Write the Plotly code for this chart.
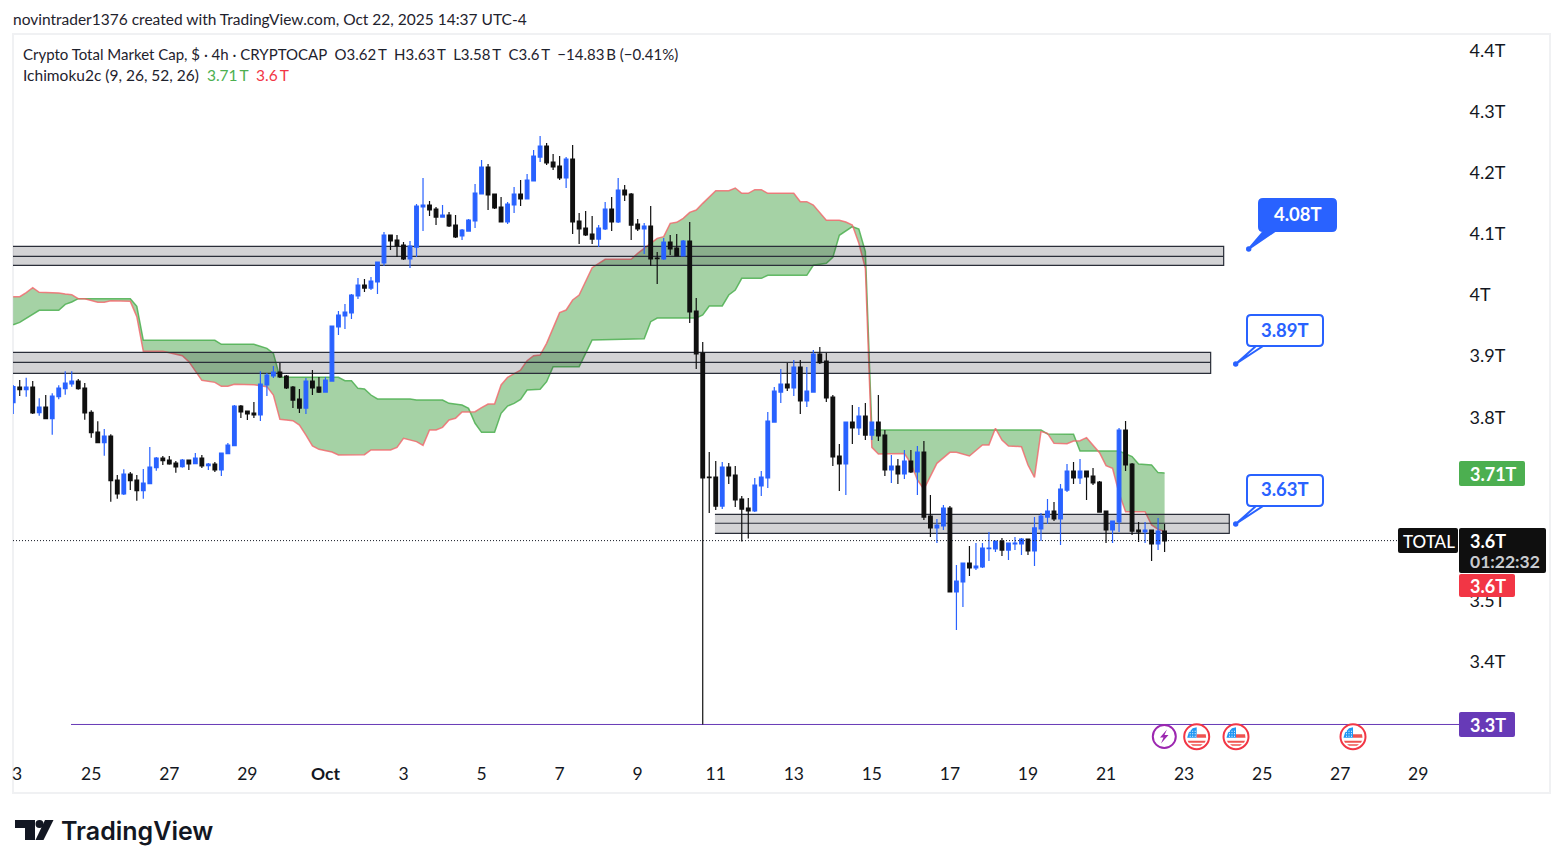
import pandas as pd
import plotly.graph_objects as go

# 4h candles, values in trillions
first_candle = "2025-09-23 00:00"
opens = [
    3.8238, 3.8494, 3.8450, 3.8494, 3.8074, 3.8167, 3.7976, 3.8336, 3.8467, 3.8543,
    3.8592, 3.8478, 3.8080, 3.7758, 3.7583, 3.7692, 3.6972, 3.6743, 3.7070, 3.6972,
    3.6797, 3.6912, 3.7174, 3.7332, 3.7299, 3.7250, 3.7190, 3.7299, 3.7239, 3.7332,
    3.7207, 3.7234, 3.7136, 3.7403, 3.7534, 3.8183, 3.8101, 3.8069, 3.8036, 3.8527,
    3.8674, 3.8740, 3.8674, 3.8494, 3.8298, 3.8150, 3.8592, 3.8494, 3.8412, 3.8592,
    3.9476, 3.9656, 3.9705, 3.9984, 4.0164, 4.0114, 4.0213, 4.0524, 4.0982, 4.0900,
    4.0818, 4.0589, 4.0785, 4.1440, 4.1473, 4.1407, 4.1276, 4.1309, 4.1145, 4.0966,
    4.1047, 4.1211, 4.1653, 4.2095, 4.1653, 4.1440, 4.1195, 4.1473, 4.1653, 4.1571,
    4.1866, 4.2258, 4.2439, 4.2177, 4.2111, 4.1915, 4.2226, 4.1211, 4.1096, 4.0998,
    4.0916, 4.1080, 4.1407, 4.1195, 4.1718, 4.1653, 4.1162, 4.1080, 4.1129, 4.0605,
    4.0589, 4.0867, 4.0769, 4.0638, 4.0884, 3.9738, 3.9051, 3.7021, 3.7021, 3.6546,
    3.7185, 3.7054, 3.6661, 3.6514, 3.6465, 3.6874, 3.7005, 3.7921, 3.8412, 3.8543,
    3.8478, 3.8821, 3.8265, 3.8412, 3.9034, 3.8920, 3.8331, 3.7365, 3.7234, 3.7921,
    3.7823, 3.8020, 3.7708, 3.7921, 3.7708, 3.7136, 3.7201, 3.7070, 3.7283, 3.7103,
    3.7430, 3.6383, 3.6187, 3.6219, 3.6514, 3.5139, 3.5303, 3.5614, 3.5532, 3.5548,
    3.5848, 3.5843, 3.5974, 3.5826, 3.5925, 3.5925, 3.6006, 3.5810, 3.6170, 3.6366,
    3.6465, 3.6334, 3.6808, 3.7119, 3.7005, 3.7119, 3.7038, 3.6939, 3.6465, 3.6154,
    3.6285, 3.7790, 3.7234, 3.6154, 3.6121, 3.6154, 3.5925, 3.6137,
]
closes = [
    3.8500, 3.8450, 3.8494, 3.8069, 3.8167, 3.7976, 3.8347, 3.8478, 3.8560, 3.8592,
    3.8467, 3.8069, 3.7747, 3.7583, 3.7692, 3.6961, 3.6743, 3.7070, 3.6961, 3.6797,
    3.6923, 3.7185, 3.7332, 3.7288, 3.7234, 3.7185, 3.7299, 3.7234, 3.7332, 3.7201,
    3.7234, 3.7136, 3.7414, 3.7545, 3.8183, 3.8085, 3.8052, 3.8036, 3.8543, 3.8691,
    3.8740, 3.8658, 3.8478, 3.8281, 3.8150, 3.8592, 3.8478, 3.8412, 3.8609, 3.9492,
    3.9672, 3.9722, 4.0000, 4.0164, 4.0114, 4.0229, 4.0540, 4.0982, 4.0884, 4.0802,
    4.0589, 4.0802, 4.1456, 4.1473, 4.1391, 4.1276, 4.1309, 4.1129, 4.0949, 4.1064,
    4.1227, 4.1669, 4.2095, 4.1637, 4.1424, 4.1195, 4.1489, 4.1653, 4.1571, 4.1882,
    4.2275, 4.2439, 4.2160, 4.2095, 4.1915, 4.2226, 4.1195, 4.1080, 4.0982, 4.0916,
    4.1096, 4.1407, 4.1195, 4.1718, 4.1637, 4.1145, 4.1080, 4.1129, 4.0589, 4.0595,
    4.0867, 4.0753, 4.0638, 4.0884, 3.9722, 3.9034, 3.7005, 3.7010, 3.6546, 3.7185,
    3.7038, 3.6645, 3.6497, 3.6465, 3.6890, 3.7021, 3.7938, 3.8429, 3.8543, 3.8478,
    3.8821, 3.8265, 3.8429, 3.9034, 3.8892, 3.8314, 3.7349, 3.7234, 3.7921, 3.7823,
    3.8020, 3.7708, 3.7921, 3.7692, 3.7136, 3.7201, 3.7070, 3.7283, 3.7103, 3.7430,
    3.6366, 3.6187, 3.6236, 3.6514, 3.5139, 3.5319, 3.5614, 3.5532, 3.5565, 3.5859,
    3.5859, 3.5974, 3.5826, 3.5941, 3.5941, 3.6006, 3.5810, 3.6187, 3.6383, 3.6465,
    3.6334, 3.6825, 3.7119, 3.7005, 3.7119, 3.7021, 3.6923, 3.6448, 3.6154, 3.6301,
    3.7790, 3.7218, 3.6137, 3.6121, 3.6154, 3.5925, 3.6137, 3.5974,
]
highs = [
    3.8527, 3.8609, 3.8647, 3.8592, 3.8309, 3.8363, 3.8390, 3.8521, 3.8751, 3.8751,
    3.8625, 3.8560, 3.8112, 3.7932, 3.7807, 3.7720, 3.7054, 3.7147, 3.7103, 3.7054,
    3.7152, 3.7512, 3.7349, 3.7365, 3.7365, 3.7283, 3.7316, 3.7299, 3.7414, 3.7381,
    3.7250, 3.7267, 3.7414, 3.7578, 3.8200, 3.8200, 3.8101, 3.8249, 3.8751, 3.8723,
    3.8838, 3.8887, 3.8691, 3.8511, 3.8461, 3.8642, 3.8772, 3.8658, 3.8658, 3.9492,
    3.9738, 3.9853, 4.0016, 4.0278, 4.0262, 4.0294, 4.0540, 4.1031, 4.0982, 4.0982,
    4.0867, 4.0884, 4.1489, 4.1915, 4.1538, 4.1440, 4.1473, 4.1358, 4.1309, 4.1080,
    4.1244, 4.1817, 4.2209, 4.2144, 4.1653, 4.1604, 4.1522, 4.1767, 4.1882, 4.1980,
    4.2373, 4.2602, 4.2488, 4.2308, 4.2275, 4.2258, 4.2455, 4.1342, 4.1375, 4.1293,
    4.1145, 4.1522, 4.1604, 4.1915, 4.1800, 4.1669, 4.1244, 4.1178, 4.1456, 4.0704,
    4.0933, 4.0982, 4.0998, 4.0900, 4.1195, 3.9951, 3.9231, 3.7430, 3.7283, 3.7267,
    3.7250, 3.7201, 3.6710, 3.6677, 3.7005, 3.7119, 3.8085, 3.8494, 3.8789, 3.8887,
    3.8936, 3.8936, 3.8821, 3.9100, 3.9149, 3.9051, 3.8363, 3.7561, 3.7921, 3.8200,
    3.8167, 3.8232, 3.7921, 3.8363, 3.7790, 3.7381, 3.7316, 3.7463, 3.7463, 3.7529,
    3.7610, 3.6727, 3.6334, 3.6563, 3.6546, 3.5581, 3.5614, 3.5892, 3.5941, 3.5941,
    3.6121, 3.5974, 3.6023, 3.5941, 3.6040, 3.6023, 3.6006, 3.6366, 3.6432, 3.6661,
    3.6612, 3.6907, 3.7234, 3.7267, 3.7316, 3.7119, 3.7168, 3.6956, 3.6465, 3.6301,
    3.7823, 3.7938, 3.7250, 3.6285, 3.6285, 3.6154, 3.6350, 3.6252,
]
lows = [
    3.8052, 3.8347, 3.8336, 3.8052, 3.8025, 3.7976, 3.7714, 3.8292, 3.8369, 3.8500,
    3.8450, 3.7960, 3.7665, 3.7583, 3.7370, 3.6618, 3.6667, 3.6727, 3.6808, 3.6634,
    3.6667, 3.6912, 3.7125, 3.7218, 3.7223, 3.7092, 3.7174, 3.7136, 3.7234, 3.7168,
    3.7136, 3.7103, 3.7038, 3.7398, 3.7534, 3.7987, 3.7954, 3.7987, 3.7938, 3.8347,
    3.8642, 3.8642, 3.8461, 3.8150, 3.8069, 3.8052, 3.8363, 3.8396, 3.8412, 3.8592,
    3.9345, 3.9443, 3.9607, 3.9934, 4.0049, 4.0082, 4.0016, 4.0475, 4.0736, 4.0622,
    4.0573, 4.0442, 4.0622, 4.1047, 4.1293, 4.1145, 4.1276, 4.1113, 4.0933, 4.0900,
    4.1047, 4.1096, 4.1653, 4.1391, 4.1407, 4.1195, 4.1162, 4.1342, 4.1456, 4.1571,
    4.1866, 4.2177, 4.2128, 4.2046, 4.1882, 4.1751, 4.0998, 4.0835, 4.0966, 4.0835,
    4.0785, 4.1064, 4.1047, 4.1178, 4.1538, 4.0900, 4.1047, 4.0671, 4.0475, 4.0180,
    4.0573, 4.0655, 4.0638, 4.0638, 3.9542, 3.8789, 3.2971, 3.6432, 3.6481, 3.6497,
    3.6907, 3.6530, 3.5966, 3.6016, 3.6448, 3.6710, 3.6841, 3.7921, 3.8232, 3.8429,
    3.8347, 3.8052, 3.8167, 3.8412, 3.8871, 3.8249, 3.7201, 3.6792, 3.6727, 3.7561,
    3.7708, 3.7627, 3.7627, 3.7610, 3.7038, 3.6923, 3.6907, 3.6988, 3.7087, 3.6727,
    3.6317, 3.6040, 3.5941, 3.6154, 3.5139, 3.4517, 3.4894, 3.5401, 3.5499, 3.5532,
    3.5647, 3.5794, 3.5728, 3.5663, 3.5826, 3.5745, 3.5745, 3.5565, 3.5974, 3.6252,
    3.6301, 3.5908, 3.6776, 3.6907, 3.6907, 3.6645, 3.6890, 3.6448, 3.5941, 3.5941,
    3.6121, 3.7119, 3.6072, 3.5957, 3.5941, 3.5647, 3.5826, 3.5794,
]

# Ichimoku cloud edges: candle number and value at each bend
green_idx = [
    0, 1, 4, 7, 8, 9, 10, 18, 19, 20, 31, 32, 37, 39, 40, 41, 50, 51, 52, 53,
    54, 55, 56, 61, 62, 66, 67, 69, 70, 71, 72, 74, 75, 76, 77, 78, 79, 81, 82, 83,
    87, 89, 97, 98, 99, 105, 106, 107, 109, 110, 111, 112, 115, 116, 122, 123, 125, 126, 127, 129,
    130, 131, 132, 158, 159, 163, 164, 170, 172, 173, 175, 176, 177,
]
green_val = [
    3.9514, 3.9552, 3.9749, 3.9749, 3.9847, 3.9885, 3.9940, 3.9940, 3.9814, 3.9258,
    3.9258, 3.9192, 3.9192, 3.9127, 3.9045, 3.8652, 3.8652, 3.8598, 3.8598, 3.8472,
    3.8461, 3.8363, 3.8298, 3.8298, 3.8281, 3.8281, 3.8227, 3.8200, 3.8145, 3.7900,
    3.7752, 3.7752, 3.8063, 3.8183, 3.8227, 3.8292, 3.8445, 3.8456, 3.8581, 3.8827,
    3.8827, 3.9263, 3.9285, 3.9563, 3.9623, 3.9624, 3.9673, 3.9820, 3.9820, 4.0000,
    4.0082, 4.0273, 4.0273, 4.0322, 4.0322, 4.0486, 4.0518, 4.0617, 4.0977, 4.1118,
    4.1080, 4.0709, 3.7791, 3.7791, 3.7726, 3.7720, 3.7447, 3.7447, 3.7355, 3.7235,
    3.7218, 3.7093, 3.7087,
]
red_idx = [
    0, 1, 2, 3, 4, 7, 8, 9, 10, 11, 13, 14, 15, 18, 19, 20, 23, 26, 27, 29,
    31, 32, 33, 34, 37, 39, 40, 41, 43, 44, 45, 46, 47, 49, 50, 54, 55, 58, 59, 60,
    62, 63, 64, 65, 66, 67, 68, 69, 70, 71, 72, 73, 74, 75, 76, 78, 79, 80, 81, 82,
    84, 85, 86, 87, 89, 91, 95, 96, 98, 99, 100, 101, 102, 103, 104, 105, 106, 107, 108, 110,
    111, 112, 113, 114, 115, 116, 120, 121, 122, 123, 124, 125, 127, 128, 129, 130, 131, 132, 133, 137,
    138, 139, 140, 141, 142, 144, 145, 147, 149, 150, 151, 152, 153, 155, 156, 157, 158, 159, 160, 162,
    163, 164, 165, 167, 168, 169, 170, 171, 174, 175, 176, 177,
]
red_val = [
    3.9973, 3.9973, 4.0038, 4.0120, 4.0044, 4.0033, 4.0016, 4.0005, 3.9940, 3.9940,
    3.9880, 3.9880, 3.9907, 3.9896, 3.9645, 3.9078, 3.9078, 3.9007, 3.8909, 3.8603,
    3.8570, 3.8505, 3.8505, 3.8538, 3.8532, 3.8500, 3.8363, 3.7965, 3.7943, 3.7872,
    3.7708, 3.7529, 3.7474, 3.7431, 3.7381, 3.7387, 3.7463, 3.7463, 3.7507, 3.7654,
    3.7600, 3.7540, 3.7791, 3.7791, 3.7834, 3.7954, 3.7982, 3.8085, 3.8085, 3.8091,
    3.8156, 3.8216, 3.8216, 3.8527, 3.8652, 3.8772, 3.8925, 3.9007, 3.9018, 3.9209,
    3.9711, 3.9754, 3.9918, 4.0000, 4.0447, 4.0584, 4.0584, 4.0682, 4.0845, 4.0927,
    4.0955, 4.1173, 4.1189, 4.1255, 4.1353, 4.1391, 4.1500, 4.1598, 4.1708, 4.1708,
    4.1751, 4.1664, 4.1664, 4.1724, 4.1724, 4.1664, 4.1664, 4.1528, 4.1528, 4.1473,
    4.1353, 4.1222, 4.1222, 4.1195, 4.1146, 4.0846, 4.0437, 3.7507, 3.7398, 3.7404,
    3.7245, 3.6973, 3.6820, 3.7027, 3.7245, 3.7425, 3.7425, 3.7365, 3.7546, 3.7546,
    3.7818, 3.7627, 3.7529, 3.7518, 3.7218, 3.7016, 3.7764, 3.7736, 3.7573, 3.7567,
    3.7611, 3.7616, 3.7665, 3.7420, 3.7207, 3.7164, 3.6754, 3.6454, 3.6454, 3.6236,
    3.6165, 3.6127,
]

# drawn zones
zone_top = [4.0797, 3.9062, 3.6411]
zone_mid = [4.0633, 3.8898, 3.6264]
zone_bottom = [4.0486, 3.8718, 3.6100]
zone_start = ["2025-09-20 00:00", "2025-09-20 00:00", "2025-10-10 23:30"]
zone_end = ["2025-10-24 00:20", "2025-10-23 16:20", "2025-10-24 03:47"]

last_price = 3.598
low_line = 3.2971
low_line_start = "2025-09-24 11:33"

# 3.7T and 3.6T sit under the price tags in the reference, nothing of them shows
y_ticks = [4.4, 4.3, 4.2, 4.1, 4.0, 3.9, 3.8, 3.5, 3.4]
y_labels = ["4.4T", "4.3T", "4.2T", "4.1T", "4T", "3.9T", "3.8T", "3.5T", "3.4T"]
x_ticks = ["2025-09-25", "2025-09-27", "2025-09-29", "2025-10-01", "2025-10-03", "2025-10-05",
           "2025-10-07", "2025-10-09", "2025-10-11", "2025-10-13", "2025-10-15", "2025-10-17",
           "2025-10-19", "2025-10-21", "2025-10-23", "2025-10-25", "2025-10-27", "2025-10-29"]
x_labels = ["25", "27", "29", "<b>Oct</b>", "3", "5", "7", "9", "11", "13", "15", "17",
            "19", "21", "23", "25", "27", "29"]

FONT = "Lato"
BLUE = "#2962ff"
BLACK = "#101010"
INK = "#131722"
THIN = "\u2009"

# page body keeps its 8px margin, so the figure is 16px smaller than the window
PLOT_L, PLOT_R, PLOT_T, PLOT_B = 13, 1459, 34, 755
PX_PER_DAY = 39.03
FIRST_X = 13.2


def X(px):
    return (px - PLOT_L) / (PLOT_R - PLOT_L)


def Y(py):
    return (PLOT_B - py) / (PLOT_B - PLOT_T)


def pt(px, py):
    return f"{X(px):.5f},{Y(py):.5f}"


def box(x0, y0, x1, y1, fill, line=None, width=0, r=2):
    path = (f"M{pt(x0 + r, y0)} L{pt(x1 - r, y0)} Q{pt(x1, y0)} {pt(x1, y0 + r)} "
            f"L{pt(x1, y1 - r)} Q{pt(x1, y1)} {pt(x1 - r, y1)} L{pt(x0 + r, y1)} "
            f"Q{pt(x0, y1)} {pt(x0, y1 - r)} L{pt(x0, y0 + r)} Q{pt(x0, y0)} {pt(x0 + r, y0)} Z")
    return dict(type="path", xref="paper", yref="paper", path=path, fillcolor=fill,
                line=dict(color=line or fill, width=width))


def circle(cx, cy, r, fill, line=None, width=0):
    return dict(type="circle", xref="paper", yref="paper", x0=X(cx - r), x1=X(cx + r),
                y0=Y(cy + r), y1=Y(cy - r), fillcolor=fill,
                line=dict(color=line or fill, width=width))


def poly(points, fill):
    path = "M" + " L".join(pt(a, b) for a, b in points) + " Z"
    return dict(type="path", xref="paper", yref="paper", path=path, fillcolor=fill,
                line=dict(width=0))


def label(px, py, text, color=INK, size=15, anchor="left", weight=None, family=FONT):
    return dict(xref="paper", yref="paper", x=X(px), y=Y(py), text=text, showarrow=False,
                xanchor=anchor, yanchor="middle", align=anchor, borderpad=0, borderwidth=0,
                font=dict(family=family, size=size, color=color, weight=weight))


def callout(x0, y0, x1, y1, tip, base, fill, line, text_color, text):
    r = 4
    path = (f"M{pt(x0 + r, y0)} L{pt(x1 - r, y0)} Q{pt(x1, y0)} {pt(x1, y0 + r)} "
            f"L{pt(x1, y1 - r)} Q{pt(x1, y1)} {pt(x1 - r, y1)} L{pt(x0 + base[1], y1)} "
            f"L{pt(*tip)} L{pt(x0 + base[0], y1)} L{pt(x0 + r, y1)} "
            f"Q{pt(x0, y1)} {pt(x0, y1 - r)} L{pt(x0, y0 + r)} Q{pt(x0, y0)} {pt(x0 + r, y0)} Z")
    shape = dict(type="path", xref="paper", yref="paper", path=path, fillcolor=fill,
                 line=dict(color=line, width=2))
    dot = circle(tip[0], tip[1], 2.7, BLUE)
    text_ann = label((x0 + x1) / 2, (y0 + y1) / 2 - 1, text, text_color, 18.5, "center", 700)
    return [shape, dot], text_ann


def flag(cx, cy):
    items = [circle(cx, cy, 12.5, "#ffffff", "#f23645", 2)]
    items.append(poly([(cx - 8, cy - 4), (cx - 4, cy - 8.5), (cx, cy - 9.5), (cx, cy + 1), (cx - 9.5, cy + 1)], "#2196f3"))
    items.append(poly([(cx, cy - 2.5), (cx + 9, cy - 2.5), (cx + 9.5, cy + 1), (cx, cy + 1)], "#ef5350"))
    items.append(poly([(cx - 9, cy + 4), (cx + 9, cy + 4), (cx + 8, cy + 6), (cx - 8, cy + 6)], "#ef5350"))
    items.append(poly([(cx - 6, cy + 7.5), (cx + 6, cy + 7.5), (cx + 4, cy + 9), (cx - 4, cy + 9)], "#ef5350"))
    for dx in (-7, -4.5, -2):
        for dy in (-6, -3.5, -1):
            items.append(box(cx + dx, cy + dy, cx + dx + 1, cy + dy + 1, "#ffffff", r=0))
    return items


times = pd.date_range(first_candle, periods=len(opens), freq="4h")
x_start = pd.Timestamp(first_candle) - pd.Timedelta(days=(FIRST_X - PLOT_L) / PX_PER_DAY)
x_end = pd.Timestamp(first_candle) + pd.Timedelta(days=(PLOT_R - FIRST_X) / PX_PER_DAY)
x_range = [x_start, x_end]
y_range = [4 - (PLOT_B - 295) / 611, 4 + (295 - PLOT_T) / 611]

fig = go.Figure()

# cloud first, zones over it, candles on an overlay axis so they stay on top
fig.add_trace(go.Scatter(x=times[green_idx], y=green_val, mode="lines",
                         line=dict(color="rgba(76,175,80,0.85)", width=1.5),
                         showlegend=False, hoverinfo="skip"))
fig.add_trace(go.Scatter(x=times[red_idx], y=red_val, mode="lines", fill="tonexty",
                         fillcolor="rgba(76,165,76,0.5)",
                         line=dict(color="rgba(242,100,105,0.8)", width=1.5),
                         showlegend=False, hoverinfo="skip"))

for top, mid, bottom, start, end in zip(zone_top, zone_mid, zone_bottom, zone_start, zone_end):
    fig.add_trace(go.Scatter(x=[start, end, end, start], y=[top, top, bottom, bottom],
                             mode="lines", fill="toself", fillcolor="rgba(19,23,34,0.19)",
                             line=dict(width=0), showlegend=False, hoverinfo="skip"))
    fig.add_trace(go.Scatter(x=[start, end, end, start, None, start, end],
                             y=[top, top, bottom, bottom, None, mid, mid],
                             mode="lines", line=dict(color="#2a2e39", width=1.2),
                             showlegend=False, hoverinfo="skip"))

fig.add_trace(go.Candlestick(
    x=times, open=opens, high=highs, low=lows, close=closes,
    xaxis="x2", yaxis="y2", whiskerwidth=0,
    increasing=dict(line=dict(color=BLUE, width=1.2), fillcolor=BLUE),
    decreasing=dict(line=dict(color=BLACK, width=1.2), fillcolor=BLACK),
    showlegend=False,
))

shapes = [
    # outer frame
    dict(type="rect", xref="paper", yref="paper", x0=X(13), x1=X(1550), y0=Y(793), y1=Y(34),
         line=dict(color="#f0f1f3", width=2), layer="below"),
    dict(type="line", xref="x", yref="y", x0=low_line_start, x1=x_end, y0=low_line, y1=low_line,
         line=dict(color="#673ab7", width=1), layer="below"),
    dict(type="line", xref="x", yref="y", x0=x_start, x1=x_end, y0=last_price, y1=last_price,
         line=dict(color="#131722", width=1, dash="1px,2px")),
    # price scale tags
    box(1459, 461, 1525, 486, "#4caf50"),
    box(1398, 528, 1458, 553, "#0f0f0f"),
    box(1459, 528, 1546, 573, "#0f0f0f"),
    box(1459, 574, 1515, 597, "#f23645"),
    box(1459, 712, 1515, 737, "#673ab7"),
]

legend_line = (f"Crypto Total Market Cap, $ · 4h · CRYPTOCAP &nbsp;O3.62{THIN}T &nbsp;H3.63{THIN}T "
               f"&nbsp;L3.58{THIN}T &nbsp;C3.6{THIN}T &nbsp;−14.83{THIN}B (−0.41%)")
indicator_line = (f'Ichimoku2c (9, 26, 52, 26) &nbsp;<span style="color:#4caf50">3.71{THIN}T</span> '
                  f'&nbsp;<span style="color:#f23645">3.6{THIN}T</span>')

annotations = [
    label(13, 19, "novintrader1376 created with TradingView.com, Oct 22, 2025 14:37 UTC-4", "#1e222d", 15.5),
    label(23, 54, legend_line, "#1e222d", 15),
    label(23, 75, indicator_line, "#1e222d", 15.5),
    label(17, 773, "3", "#131722", 17.5, "center"),
    label(1470, 474, "3.71T", "#ffffff", 18, weight=700),
    label(1403, 541, "TOTAL", "#ffffff", 17, weight=500),
    label(1470, 541, "3.6T", "#ffffff", 18, weight=700),
    label(1470, 561, "01:22:32", "#c9cbd0", 17.5, weight=700),
    label(1470, 586, "3.6T", "#ffffff", 18, weight=700),
    label(1470, 725, "3.3T", "#ffffff", 18, weight=700),
]

for args in [
    (1259, 199, 1336, 231, (1248.7, 249), (16, 5), BLUE, BLUE, "#ffffff", "4.08T"),
    (1247, 315, 1323, 346, (1235.7, 364), (16, 9), "#ffffff", BLUE, BLUE, "3.89T"),
    (1247, 475, 1323, 506, (1235.7, 524), (16, 9), "#ffffff", BLUE, BLUE, "3.63T"),
]:
    parts, text = callout(*args)
    shapes += parts
    annotations.append(text)

# event markers
shapes.append(circle(1164.3, 736.5, 11.5, "#ffffff", "#9c27b0", 2))
shapes.append(poly([(1167, 729.5), (1160, 737.5), (1163.5, 737.5), (1161, 743.5), (1168.5, 735), (1164.5, 735)], "#9c27b0"))
for cx in (1196.7, 1236, 1353):
    shapes += flag(cx, 736.7)

# TradingView mark
shapes.append(poly([(15, 820), (35, 820), (35, 840), (25, 840), (25, 828), (15, 828)], "#131722"))
shapes.append(circle(39.5, 824, 4, "#131722"))
shapes.append(poly([(45, 820), (53.5, 820), (43.5, 840), (35.5, 840)], "#131722"))
annotations.append(label(61, 831, "TradingView", "#131722", 25, weight=600, family="Inter"))

fig.update_layout(
    width=1547,
    height=850,
    autosize=False,
    margin=dict(l=PLOT_L - 8, r=1555 - PLOT_R, t=PLOT_T - 8, b=858 - PLOT_B),
    paper_bgcolor="#ffffff",
    plot_bgcolor="#ffffff",
    showlegend=False,
    boxgap=0.2,
    font=dict(family=FONT, color="#131722"),
    xaxis=dict(type="date", range=x_range, tickmode="array", tickvals=x_ticks, ticktext=x_labels,
               showgrid=False, zeroline=False, showline=False, ticks="outside", ticklen=3,
               tickcolor="rgba(0,0,0,0)", tickangle=0, tickfont=dict(size=17.5, family=FONT)),
    yaxis=dict(side="right", range=y_range, tickmode="array", tickvals=y_ticks, ticktext=y_labels,
               showgrid=False, zeroline=False, showline=False, ticks="outside", ticklen=6,
               tickcolor="rgba(0,0,0,0)", tickfont=dict(size=18, family=FONT)),
    xaxis2=dict(type="date", range=x_range, overlaying="x", anchor="y2", visible=False,
                rangeslider=dict(visible=False)),
    yaxis2=dict(range=y_range, overlaying="y", anchor="x2", visible=False),
    shapes=shapes,
    annotations=annotations,
)

fig.write_html("out.html")
